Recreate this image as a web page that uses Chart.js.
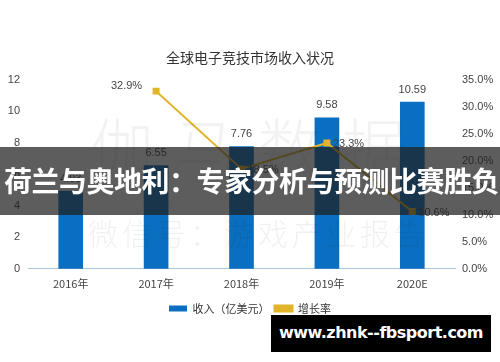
<!DOCTYPE html>
<html><head><meta charset="utf-8">
<script src="https://cdn.jsdelivr.net/npm/chart.js@4"></script>
<style>
html,body{margin:0;padding:0;background:#fff;}
#wrap{position:relative;width:500px;height:362px;overflow:hidden;}
canvas{position:absolute;left:0;top:0;}
.wm1{position:absolute;left:90px;top:98px;font:300 64px "Noto Sans CJK SC";color:rgba(0,0,0,0.05);letter-spacing:20px;white-space:nowrap;}
.wm2{position:absolute;left:88px;top:210px;font:300 30px "Noto Sans CJK SC";color:rgba(0,0,0,0.06);letter-spacing:4px;white-space:nowrap;}
#banner{position:absolute;left:0;top:147px;width:500px;height:68px;background:rgba(30,30,30,0.72);}
#banner span{position:absolute;left:4px;top:13px;font:bold 28px "Noto Sans CJK SC";color:#fff;white-space:nowrap;letter-spacing:-0.5px;}
#site{position:absolute;left:271px;top:315px;width:220px;height:37px;background:#000;}
#site span{position:absolute;left:0;width:220px;text-align:center;top:8px;font:bold 16px "DejaVu Sans";color:#fff;white-space:nowrap;letter-spacing:-0.5px;}
</style></head>
<body><div id="wrap">
<canvas id="c" width="500" height="362"></canvas>
<div class="wm1">伽马数据</div>
<div class="wm2">微信号：游戏产业报告</div>
<div id="banner"><span>荷兰与奥地利：专家分析与预测比赛胜负</span></div>
<div id="site"><span>www.zhnk--fbsport.com</span></div>
</div>
<script>
const categories = ["2016年","2017年","2018年","2019年","2020E"];
const revenue = [4.93, 6.55, 7.76, 9.58, 10.59];
const growth = [null, 32.9, 18.5, 23.3, 10.6];
const chartTitle = "全球电子竞技市场收入状况";
const revenueLabel = "收入（亿美元）";
const growthLabel = "增长率";

const labelPlugin = {
  id:'vals',
  afterDatasetsDraw(chart){
    const ctx = chart.ctx;
    ctx.save();
    ctx.font = '11px "Liberation Sans", Arial';
    ctx.fillStyle = '#444';
    ctx.textAlign='center';ctx.textBaseline='bottom';
    chart.getDatasetMeta(0).data.forEach((b,i)=>{
      ctx.fillText(revenue[i].toFixed(2), b.x, b.y-7);
    });
    const m = chart.getDatasetMeta(1);
    m.data.forEach((p,i)=>{
      if(growth[i]==null) return;
      const t = growth[i].toFixed(1)+'%';
      ctx.textBaseline='middle';
      if(i===1){ctx.textAlign='right';ctx.fillText(t,p.x-14,p.y-5);}
      else {ctx.textAlign='left';ctx.fillText(t,p.x+6,p.y+1);}
    });
    ctx.restore();
  }
};

new Chart(document.getElementById('c'),{
  data:{
    labels:categories,
    datasets:[
      {type:'bar',label:revenueLabel,data:revenue,backgroundColor:'#0b6fc1',yAxisID:'y',barThickness:24,order:2},
      {type:'line',label:growthLabel,data:growth,borderColor:'#e2b42a',backgroundColor:'#e2b42a',borderWidth:2,pointStyle:'rect',pointRadius:3.5,pointBackgroundColor:'#e2b42a',yAxisID:'y1',order:1,spanGaps:false}
    ]
  },
  options:{
    responsive:false,animation:false,
    layout:{padding:{left:0,right:0,top:0,bottom:38}},
    plugins:{
      title:{display:true,text:chartTitle,color:'#333',font:{family:'"Noto Sans CJK SC"',size:14,weight:'normal'},padding:{top:49,bottom:14}},
      legend:{position:'bottom',labels:{color:'#333',font:{family:'"Noto Sans CJK SC"',size:11},boxWidth:18,boxHeight:6,padding:5,sort:(a,b)=>a.datasetIndex-b.datasetIndex}},
      tooltip:{enabled:false}
    },
    scales:{
      x:{grid:{display:false,drawTicks:false},border:{color:'#a9c4dc',width:1},ticks:{color:'#444',font:{family:'"Noto Sans CJK SC"',size:11},padding:8}},
      y:{position:'left',min:0,max:12,ticks:{stepSize:2,color:'#444',font:{family:'"Liberation Sans"',size:11},padding:8},grid:{display:false,drawTicks:false},border:{display:false},afterFit(s){s.width=28;}},
      y1:{position:'right',min:0,max:35,ticks:{stepSize:5,color:'#444',font:{family:'"Liberation Sans"',size:11},padding:7,callback:v=>v.toFixed(1)+'%'},grid:{display:false,drawTicks:false},border:{display:false},afterFit(s){s.width=45;}}
    }
  },
  plugins:[labelPlugin]
});
</script>
</body></html>
